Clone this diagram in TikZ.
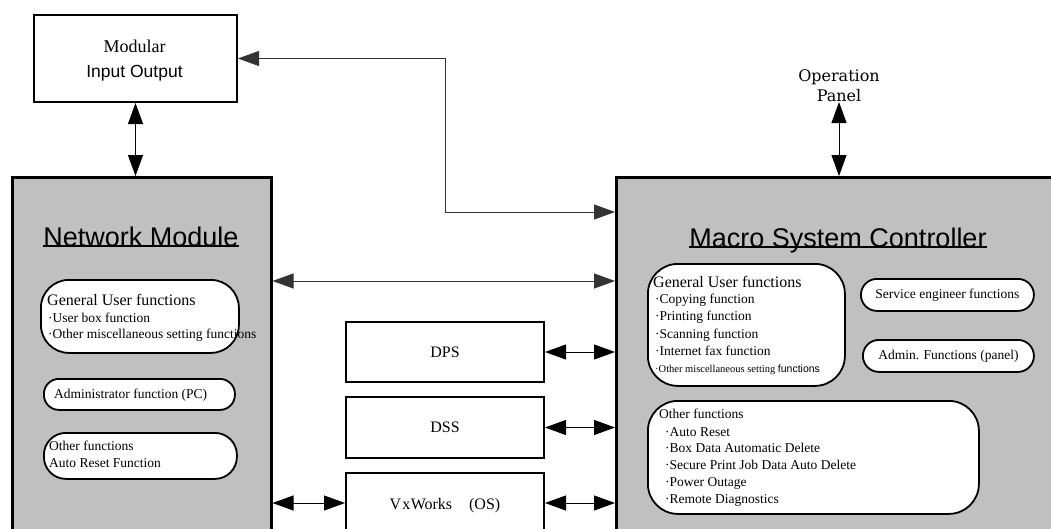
\documentclass[tikz,border=0pt]{standalone}
\usepackage{fontspec}
\setmainfont{Liberation Serif}
\newfontfamily\headfont{Liberation Sans}
\newfontfamily\slabfont{DejaVu Serif}
\usetikzlibrary{arrows.meta}
\definecolor{panelgray}{HTML}{C0C0C0}
\newcommand\fs[2]{\fontsize{#1}{#2}\selectfont}

\begin{document}
\begin{tikzpicture}[x=1pt,y=-1pt,
  frame/.style={draw, line width=2pt, fill=white, inner sep=0pt, anchor=north west},
  module/.style={draw, line width=2.5pt, fill=panelgray, inner sep=0pt, anchor=north west},
  pill/.style={draw, line width=1.8pt, fill=white, inner sep=0pt, anchor=north west},
  txt/.style={inner sep=0pt, anchor=base west, font=\fs{13.5}{16}},
  ctxt/.style={inner sep=0pt, anchor=base},
  title/.style={inner sep=0pt, anchor=base, font=\headfont\fs{27}{30}},
  link/.style={line width=0.9pt, {Triangle[length=21pt,width=15pt]}-{Triangle[length=21pt,width=15pt]}},
]
\clip (0,0) rectangle (1051,528);
\fill[white] (0,0) rectangle (1051,528);

% Modular input/output unit
\node[frame, minimum width=203pt, minimum height=87pt] (mio) at (33,14) {};
\node[ctxt, font=\fs{18}{20}] (miotop) at (134.5,52) {Modular};
\node[ctxt, font=\headfont\fs{17.5}{20}] (miobot) at (134.5,77) {Input Output};

% Two main modules (run off the page edges)
\node[module, minimum width=259pt, minimum height=400pt] (nm) at (11,176) {};
\node[module, minimum width=470pt, minimum height=400pt] (msc) at (615,176) {};

\node[title] (nmtitle) at (141,246) {Network Module};
\draw[line width=1.3pt] (nmtitle.base west) -- (nmtitle.base east);
\node[title] (msctitle) at (838,247) {Macro System Controller};
\draw[line width=1.3pt] (msctitle.base west) -- (msctitle.base east);

% Operation panel label
\node[font=\slabfont\fs{16}{20}, align=center, inner sep=0pt, anchor=south] (op) at (839,102) {Operation\\Panel};

% Middle software blocks
\node[frame, minimum width=198pt, minimum height=60pt, font=\fs{16}{18}] (dps) at (345,321) {DPS};
\node[frame, minimum width=198pt, minimum height=61pt, font=\fs{16}{18}] (dss) at (345,396) {DSS};
\node[frame, minimum width=198pt, minimum height=80pt] (vx) at (345,472) {};
\node[ctxt, font=\fs{16}{18}] (vxtext) at (445,509) {V\kern1pt x\kern0.5pt Works\hspace{17pt}(OS)};

% Network module contents
\node[pill, rounded corners=28pt, minimum width=198pt, minimum height=73pt] (nmgen) at (40,279) {};
\node[txt, font=\fs{16}{18}] (nmg0) at (47,305) {General User functions};
\node[txt] (nmg1) at (48,322) {·User box function};
\node[txt] (nmg2) at (48,338) {·Other miscellaneous setting functions};

\node[pill, rounded corners=15pt, minimum width=191pt, minimum height=31pt] (nmadm) at (43,378) {};
\node[txt] (nma0) at (54,398) {Administrator function (PC)};

\node[pill, rounded corners=22pt, minimum width=193pt, minimum height=46pt] (nmoth) at (43,432) {};
\node[txt] (nmo0) at (49,450) {Other functions};
\node[txt] (nmo1) at (49,467) {Auto Reset Function};

% Macro system controller contents
\node[pill, rounded corners=30pt, minimum width=197pt, minimum height=122pt] (mscgen) at (647,263) {};
\node[txt, font=\fs{16}{18}] (mg0) at (653,287) {General User functions};
\node[txt] (mg1) at (655,303) {·Copying function};
\node[txt] (mg2) at (655,320) {·Printing function};
\node[txt] (mg3) at (655,338) {·Scanning function};
\node[txt] (mg4) at (655,355) {·Internet fax function};
\node[txt, font=\fs{10.5}{12}] (mg5) at (655,372) {·Other miscellaneous setting {\headfont functions}};

\node[pill, rounded corners=16pt, minimum width=173pt, minimum height=32pt, font=\fs{13.5}{16}] (mscsvc) at (860,278) {Service engineer functions};
\node[pill, rounded corners=16pt, minimum width=171pt, minimum height=32pt, font=\fs{13.5}{16}] (mscadm) at (862,339) {Admin. Functions (panel)};

\node[pill, rounded corners=30pt, minimum width=331pt, minimum height=113pt] (mscoth) at (647,400) {};
\node[txt] (mo0) at (659,418) {Other functions};
\node[txt] (mo1) at (665,436) {·Auto Reset};
\node[txt] (mo2) at (665,452) {·Box Data Automatic Delete};
\node[txt] (mo3) at (665,469) {·Secure Print Job Data Auto Delete};
\node[txt] (mo4) at (665,486) {·Power Outage};
\node[txt] (mo5) at (665,503) {·Remote Diagnostics};

% Connectors
\coordinate (bend) at (445,212);
\coordinate (busA) at (0,281);
\coordinate (busB) at (0,503);
\draw[link, draw=black!80] (mio.east) -| (bend) -- (bend -| msc.west);
\draw[link] (mio.south) -- (mio.south |- nm.north);
\draw[link, draw=black!80] (nm.east |- busA) -- (msc.west |- busA);
\draw[link] (dps.east) -- (dps.east -| msc.west);
\draw[link] (dss.east) -- (dss.east -| msc.west);
\draw[link] (nm.east |- busB) -- (vx.west |- busB);
\draw[link] (vx.east |- busB) -- (msc.west |- busB);
\draw[link] (op.south) -- (op.south |- msc.north);
\end{tikzpicture}
\end{document}
